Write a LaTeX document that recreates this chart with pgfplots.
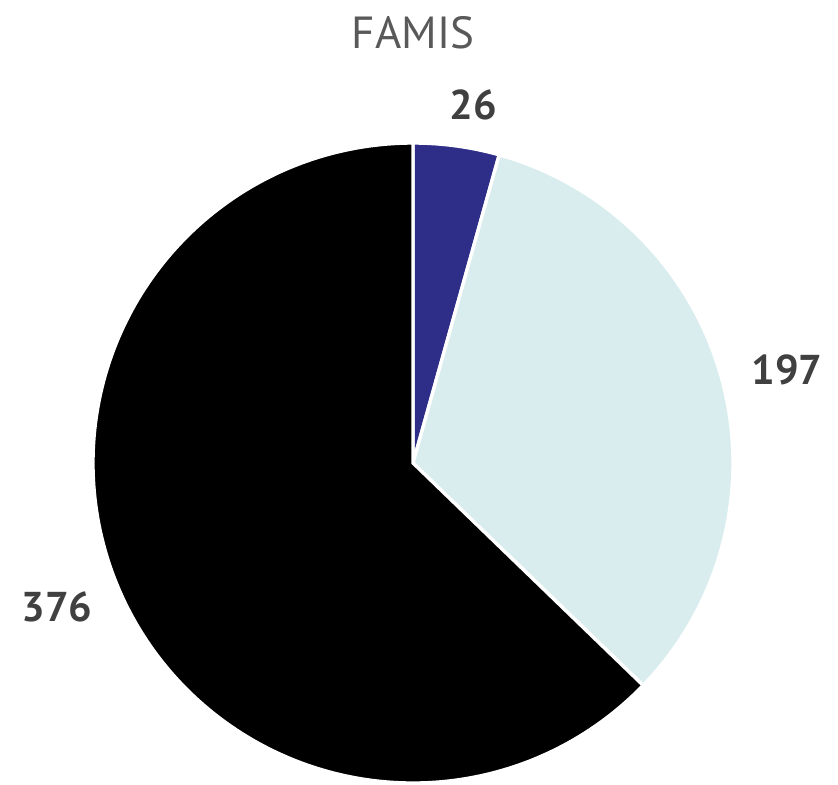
\documentclass[border=0pt]{standalone}
\usepackage{pgfplots}
\usepackage{pgfplotstable}
\usepackage{fontspec}
\setmainfont{PT Sans}
\pgfplotsset{compat=1.18}
\definecolor{navy}{HTML}{2E2E88}
\definecolor{lightc}{HTML}{DAEDEE}
\definecolor{numgray}{HTML}{404040}
\definecolor{titlegray}{HTML}{595959}
\pgfplotstableread{
label value
a 26
b 197
c 376
}\piedata
\begin{document}
\begin{tikzpicture}
\pgfplotstablegetelem{0}{value}\of\piedata \let\va\pgfplotsretval
\pgfplotstablegetelem{1}{value}\of\piedata \let\vb\pgfplotsretval
\pgfplotstablegetelem{2}{value}\of\piedata \let\vc\pgfplotsretval
\pgfmathsetmacro{\tot}{\va+\vb+\vc}
\pgfmathsetmacro{\aA}{90}
\pgfmathsetmacro{\aB}{90-(360/\tot)*\va}
\pgfmathsetmacro{\aC}{\aB-(360/\tot)*\vb}
\pgfmathsetmacro{\aD}{-270}
\begin{axis}[
  x=96pt, y=96pt,
  xmin=-1.2906, xmax=1.3281, ymin=-0.9969, ymax=1.4469,
  hide axis, clip=false,
]
\path (rel axis cs:0,0) rectangle (rel axis cs:1,1);
\addplot[fill=navy, draw=white, line width=1pt, domain=\aB:\aA, samples=40, variable=\t] ({cos(\t)},{sin(\t)}) -- (axis cs:0,0) -- cycle;
\addplot[fill=lightc, draw=white, line width=1pt, domain=\aC:\aB, samples=120, variable=\t] ({cos(\t)},{sin(\t)}) -- (axis cs:0,0) -- cycle;
\addplot[fill=black, draw=white, line width=1pt, domain=\aD:\aC, samples=200, variable=\t] ({cos(\t)},{sin(\t)}) -- (axis cs:0,0) -- cycle;
\node[font=\fontsize{12.5}{14}\selectfont\bfseries, text=numgray] at (axis cs:0.1875,1.119) {\va};
\node[font=\fontsize{12.5}{14}\selectfont\bfseries, text=numgray] at (axis cs:1.169,0.29) {\vb};
\node[font=\fontsize{12.5}{14}\selectfont\bfseries, text=numgray] at (axis cs:-1.1125,-0.45) {\vc};
\node[font=\fontsize{13.5}{15}\selectfont, text=titlegray] at (axis cs:0,1.345) {FAMIS};
\end{axis}
\end{tikzpicture}
\end{document}
